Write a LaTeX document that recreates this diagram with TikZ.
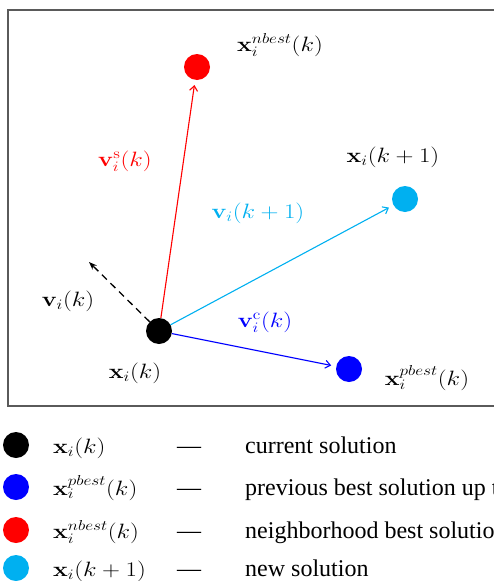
\documentclass[tikz,border=0pt]{standalone}
\usepackage[no-math]{fontspec}
\newfontfamily\serifT{Liberation Serif}
\usetikzlibrary{arrows.meta}
\definecolor{pcyan}{RGB}{0,176,240}
\definecolor{pblue}{RGB}{0,0,255}
\definecolor{pred}{RGB}{255,0,0}
\definecolor{framegray}{RGB}{90,90,90}
\newcommand{\stm}[1]{\scalebox{1.2}[1]{$#1$}}
\tikzset{
  dot/.style={circle, minimum size=26pt, inner sep=0pt, draw=none},
  lbl/.style={font=\huge, inner sep=0pt},
  legmath/.style={font=\huge, inner sep=0pt, anchor=base west},
  legtxt/.style={font=\serifT\fontsize{24}{28}\selectfont, inner sep=0pt, anchor=base west},
  legdash/.style={font=\serifT\fontsize{24}{28}\selectfont, inner sep=0pt, anchor=base},
  vec/.style={line width=1.1pt, -{Straight Barb[length=5pt,width=8pt]}, shorten >=5pt},
  oldvec/.style={line width=1.3pt, dash pattern=on 7pt off 5pt, -{Stealth[length=8pt,width=6pt]}},
}
\begin{document}
\begin{tikzpicture}[x=1pt,y=-1pt]
\useasboundingbox (0,0) rectangle (494,581);
\clip (0,0) rectangle (494,581);
\draw[framegray, line width=1.2pt] (8,10) rectangle (520,406);
% points
\node[dot, fill=black] (xk) at (159,331) {};
\node[dot, fill=pred] (nb) at (197,67) {};
\node[dot, fill=pcyan] (xk1) at (405,199) {};
\node[dot, fill=pblue] (pb) at (349,369) {};
\coordinate (vkend) at (89,262);
% vectors
\draw[vec, pred] (xk) -- (nb);
\draw[vec, pcyan] (xk) -- (xk1);
\draw[vec, pblue] (xk) -- (pb);
\draw[oldvec, black] (xk) -- (vkend);
% labels
\node[lbl] (lnb) at (280,45) {\stm{\mathbf{x}_i^{nbest}(k)}};
\node[lbl, text=pred] (lvs) at (125,161) {\stm{\mathbf{v}_i^{\mathrm{s}}(k)}};
\node[lbl] (lxk1) at (393,157) {\stm{\mathbf{x}_i(k+1)}};
\node[lbl, text=pcyan] (lvk1) at (258,213) {\stm{\mathbf{v}_i(k+1)}};
\node[lbl] (lvk) at (68,301) {\stm{\mathbf{v}_i(k)}};
\node[lbl, text=pblue] (lvc) at (265,322) {\stm{\mathbf{v}_i^{\mathrm{c}}(k)}};
\node[lbl] (lxk) at (135,373) {\stm{\mathbf{x}_i(k)}};
\node[lbl] (lpb) at (427,378) {\stm{\mathbf{x}_i^{pbest}(k)}};
% legend
\node[dot, fill=black] (g1) at (16,445) {};
\node[dot, fill=pblue] (g2) at (16,487) {};
\node[dot, fill=pred] (g3) at (16,530) {};
\node[dot, fill=pcyan] (g4) at (16,568) {};
\node[legmath] (m1) at (53,453) {\stm{\mathbf{x}_i(k)}};
\node[legmath] (m2) at (53,495) {\stm{\mathbf{x}_i^{pbest}(k)}};
\node[legmath] (m3) at (53,538) {\stm{\mathbf{x}_i^{nbest}(k)}};
\node[legmath] (m4) at (53,576) {\stm{\mathbf{x}_i(k+1)}};
\node[legdash] (d1) at (189,453) {—};
\node[legdash] (d2) at (189,495) {—};
\node[legdash] (d3) at (189,538) {—};
\node[legdash] (d4) at (189,576) {—};
\node[legtxt] (t1) at (245,453) {current solution};
\node[legtxt] (t2) at (245,495) {previous best solution up to now};
\node[legtxt] (t3) at (245,538) {neighborhood best solution};
\node[legtxt] (t4) at (245,576) {new solution};
\end{tikzpicture}
\end{document}
